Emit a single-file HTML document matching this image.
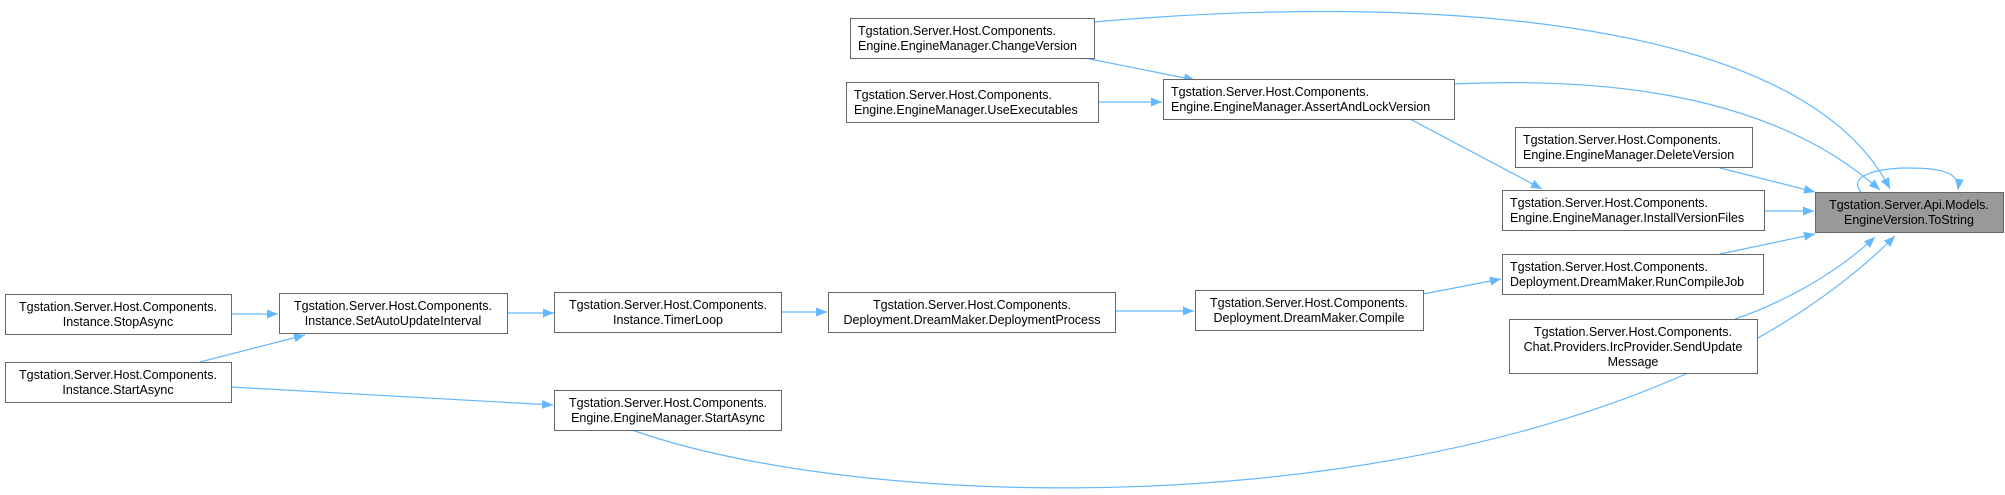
<!DOCTYPE html>
<html><head><meta charset="utf-8"><style>
html,body{margin:0;padding:0;background:#fff;}
svg{display:block;}
text{font-family:"Liberation Sans",Helvetica,Arial,sans-serif;font-size:12.5px;fill:#000;}
.b{fill:#fff;stroke:#666;stroke-width:1;}
.e{fill:none;stroke:#63b8ff;stroke-width:1.2;}
</style></head><body>
<svg width="2005" height="495" viewBox="0 0 2005 495" xmlns="http://www.w3.org/2000/svg">
<defs><marker id="a" markerUnits="userSpaceOnUse" markerWidth="12" markerHeight="10" refX="11" refY="5" orient="auto"><path d="M0,0.5 L11,5 L0,9.5 z" fill="#63b8ff"/></marker></defs>

<g class="e">
<path d="M1094,22 C1400,-5 1800,10 1890,189" marker-end="url(#a)"/>
<path d="M1085,58 L1195,80" marker-end="url(#a)"/>
<path d="M1098,102 L1162,102" marker-end="url(#a)"/>
<path d="M1454,84 C1650,75 1790,110 1880,190" marker-end="url(#a)"/>
<path d="M1410,119 L1542,189" marker-end="url(#a)"/>
<path d="M1720,168 L1815,192" marker-end="url(#a)"/>
<path d="M1764,211 L1814,211" marker-end="url(#a)"/>
<path d="M1720,254 L1815,234" marker-end="url(#a)"/>
<path d="M1735,319 C1790,300 1840,270 1875,237" marker-end="url(#a)"/>
<path d="M632,430 C900,525 1600,530 1895,236" marker-end="url(#a)"/>
<path d="M1862,193 C1845,175 1880,168 1910,168 C1945,168 1960,174 1958,190" marker-end="url(#a)"/>
<path d="M1423,294 L1501,279" marker-end="url(#a)"/>
<path d="M1115,311 L1194,311" marker-end="url(#a)"/>
<path d="M781,312 L827,312" marker-end="url(#a)"/>
<path d="M507,313 L554,313" marker-end="url(#a)"/>
<path d="M231,314 L278,314" marker-end="url(#a)"/>
<path d="M200,362 L305,335" marker-end="url(#a)"/>
<path d="M231,387 L553,405" marker-end="url(#a)"/>
</g>

<g text-anchor="start">
<rect class="b" x="850.5" y="18.5" width="244" height="40"/>
<text x="858" y="35">Tgstation.Server.Host.Components.</text><text x="858" y="50">Engine.EngineManager.ChangeVersion</text>

<rect class="b" x="846.5" y="82.5" width="252" height="40"/>
<text x="854" y="99">Tgstation.Server.Host.Components.</text><text x="854" y="114">Engine.EngineManager.UseExecutables</text>

<rect class="b" x="1163.5" y="79.5" width="291" height="40"/>
<text x="1171" y="96">Tgstation.Server.Host.Components.</text><text x="1171" y="111">Engine.EngineManager.AssertAndLockVersion</text>

<rect class="b" x="1515.5" y="127.5" width="237" height="40"/>
<text x="1523" y="144">Tgstation.Server.Host.Components.</text><text x="1523" y="159">Engine.EngineManager.DeleteVersion</text>

<rect class="b" x="1502.5" y="190.5" width="262" height="40"/>
<text x="1510" y="207">Tgstation.Server.Host.Components.</text><text x="1510" y="222">Engine.EngineManager.InstallVersionFiles</text>

<rect class="b" x="1502.5" y="254.5" width="261" height="40"/>
<text x="1510" y="271">Tgstation.Server.Host.Components.</text><text x="1510" y="286">Deployment.DreamMaker.RunCompileJob</text>
</g>

<g text-anchor="middle">
<rect x="1815.5" y="192.5" width="188" height="40" fill="#999" stroke="#666"/>
<text x="1909" y="209">Tgstation.Server.Api.Models.</text><text x="1909" y="224">EngineVersion.ToString</text>

<rect class="b" x="1509.5" y="319.5" width="248" height="54"/>
<text x="1633" y="336">Tgstation.Server.Host.Components.</text><text x="1633" y="351">Chat.Providers.IrcProvider.SendUpdate</text><text x="1633" y="366">Message</text>

<rect class="b" x="1195.5" y="290.5" width="228" height="40"/>
<text x="1309" y="307">Tgstation.Server.Host.Components.</text><text x="1309" y="322">Deployment.DreamMaker.Compile</text>

<rect class="b" x="828.5" y="292.5" width="287" height="40"/>
<text x="972" y="309">Tgstation.Server.Host.Components.</text><text x="972" y="324">Deployment.DreamMaker.DeploymentProcess</text>

<rect class="b" x="554.5" y="292.5" width="227" height="40"/>
<text x="668" y="309">Tgstation.Server.Host.Components.</text><text x="668" y="324">Instance.TimerLoop</text>

<rect class="b" x="279.5" y="293.5" width="228" height="40"/>
<text x="393" y="310">Tgstation.Server.Host.Components.</text><text x="393" y="325">Instance.SetAutoUpdateInterval</text>

<rect class="b" x="5.5" y="294.5" width="226" height="40"/>
<text x="118" y="311">Tgstation.Server.Host.Components.</text><text x="118" y="326">Instance.StopAsync</text>

<rect class="b" x="5.5" y="362.5" width="226" height="40"/>
<text x="118" y="379">Tgstation.Server.Host.Components.</text><text x="118" y="394">Instance.StartAsync</text>

<rect class="b" x="554.5" y="390.5" width="227" height="40"/>
<text x="668" y="407">Tgstation.Server.Host.Components.</text><text x="668" y="422">Engine.EngineManager.StartAsync</text>
</g>
</svg>
</body></html>
